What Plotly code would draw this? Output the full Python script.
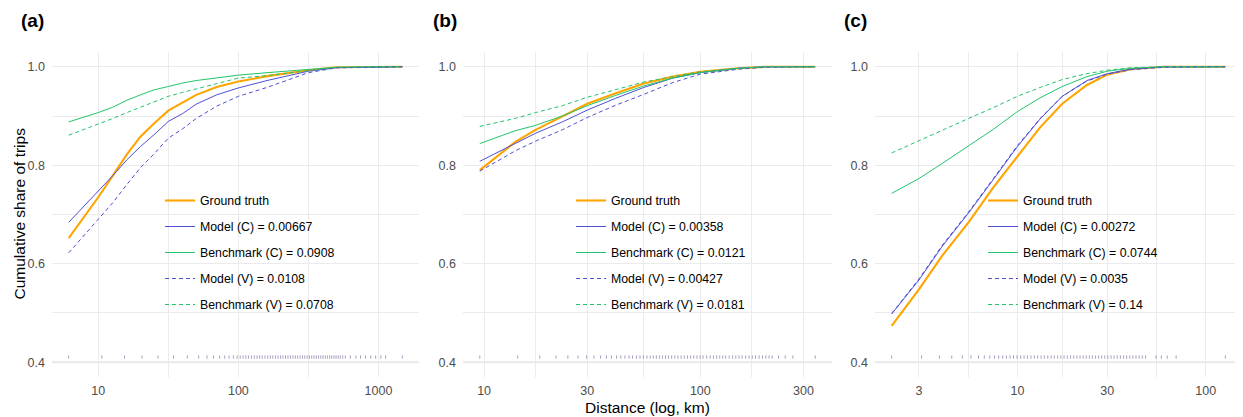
import math
import plotly.graph_objects as go

# ---------------- data ----------------
SERIES_NAMES = ["Ground truth", "Model (C)", "Benchmark (C)", "Model (V)", "Benchmark (V)"]
SCORES_A = [None, "0.00667", "0.0908", "0.0108", "0.0708"]
SCORES_B = [None, "0.00358", "0.0121", "0.00427", "0.0181"]
SCORES_C = [None, "0.00272", "0.0744", "0.0035", "0.14"]
PANEL_TAGS = ["(a)", "(b)", "(c)"]

DIST_A = [6.15, 10, 12.7, 16, 20, 25, 31.6, 40, 50, 70, 100, 160, 316, 500, 1000, 1480]
GT_A = [0.652, 0.735, 0.779, 0.822, 0.858, 0.885, 0.911, 0.928, 0.943, 0.959, 0.970, 0.981, 0.993, 0.999, 1.0, 1.0]
MC_A = [0.684, 0.747, 0.779, 0.811, 0.838, 0.862, 0.889, 0.905, 0.924, 0.943, 0.957, 0.972, 0.991, 0.998, 1.0, 1.0]
BC_A = [0.888, 0.907, 0.918, 0.932, 0.943, 0.953, 0.960, 0.967, 0.972, 0.978, 0.983, 0.988, 0.995, 0.999, 1.0, 1.0]
MV_A = [0.622, 0.690, 0.724, 0.761, 0.795, 0.823, 0.855, 0.874, 0.895, 0.920, 0.940, 0.958, 0.988, 0.998, 1.0, 1.0]
BV_A = [0.861, 0.883, 0.895, 0.907, 0.918, 0.929, 0.940, 0.948, 0.955, 0.967, 0.977, 0.982, 0.992, 0.999, 1.0, 1.0]

DIST_B = [9.55, 13.9, 17.3, 23, 30, 40.6, 54.8, 74.6, 100, 150, 200, 340]
GT_B = [0.790, 0.847, 0.872, 0.900, 0.925, 0.946, 0.966, 0.980, 0.990, 0.997, 1.0, 1.0]
MC_B = [0.808, 0.845, 0.865, 0.888, 0.912, 0.936, 0.958, 0.977, 0.988, 0.997, 1.0, 1.0]
BC_B = [0.844, 0.870, 0.881, 0.900, 0.921, 0.942, 0.961, 0.977, 0.988, 0.997, 1.0, 1.0]
MV_B = [0.788, 0.829, 0.849, 0.872, 0.897, 0.922, 0.944, 0.968, 0.985, 0.995, 0.999, 1.0]
BV_B = [0.879, 0.895, 0.907, 0.921, 0.938, 0.953, 0.969, 0.980, 0.990, 0.997, 1.0, 1.0]

DIST_C = [2.15, 3, 4, 5.5, 7.45, 10, 13.2, 17.3, 23.4, 30, 40, 60, 127]
GT_C = [0.474, 0.548, 0.617, 0.684, 0.755, 0.818, 0.877, 0.925, 0.963, 0.984, 0.995, 1.0, 1.0]
MC_C = [0.498, 0.567, 0.636, 0.703, 0.771, 0.838, 0.894, 0.940, 0.972, 0.986, 0.995, 1.0, 1.0]
BC_C = [0.743, 0.773, 0.804, 0.840, 0.873, 0.909, 0.937, 0.960, 0.980, 0.991, 0.997, 1.0, 1.0]
MV_C = [0.499, 0.569, 0.638, 0.705, 0.773, 0.840, 0.895, 0.940, 0.971, 0.985, 0.994, 0.999, 1.0]
BV_C = [0.825, 0.850, 0.872, 0.895, 0.917, 0.940, 0.958, 0.974, 0.986, 0.993, 0.998, 1.0, 1.0]

RUG_A = [6.15, 10.6, 15.4, 20.5, 26.7, 34.5, 43.2, 52.1, 59.7, 66.6, 73.5, 79.9, 85.8, 92.1, 97.9,
         103, 108, 113, 118, 124, 130, 136, 142, 148, 155, 162, 169, 176, 184, 192, 200, 208, 217,
         226, 235, 245, 255, 265, 276, 287, 298, 310, 322, 334, 347, 360, 374, 388, 402, 417, 432,
         448, 464, 481, 498, 516, 534, 555, 580, 630, 690, 745, 810, 880, 955, 1040, 1125, 1480]
RUG_B = [9.55, 14.3, 18.1, 21.5, 24.4, 27.2, 29.8, 32.2, 34.6, 36.8, 38.8, 41.0, 42.9, 44.8, 46.8,
         48.6, 50.6, 52.6, 54.6, 56.6, 58.6, 60.6, 62.6, 64.7, 66.8, 69, 71.3, 73.7, 76.2, 78.8,
         81.5, 84.3, 87.2, 90.2, 93.3, 96.5, 99.8, 103, 107, 111, 115, 119, 123, 127, 131, 136,
         141, 146, 151, 156, 162, 168, 174, 180, 187, 194, 201, 208, 215, 230, 247, 268, 340]
RUG_C = [2.15, 3.10, 3.85, 4.48, 5.10, 5.67, 6.21, 6.67, 7.13, 7.56, 7.96, 8.36, 8.74, 9.14, 9.53,
         9.95, 10.4, 10.85, 11.3, 11.8, 12.3, 12.8, 13.35, 13.9, 14.5, 15.1, 15.7, 16.35, 17.0,
         17.7, 18.4, 19.15, 19.9, 20.7, 21.5, 22.35, 23.2, 24.1, 25.0, 26.0, 27.0, 28.0, 29.1,
         30.2, 31.4, 32.6, 33.9, 35.2, 36.6, 38.0, 39.5, 41.0, 42.6, 44.3, 46.0, 47.9, 54.4,
         58.1, 62.4, 69.6, 127]
RUG_LEVEL = 0.4105

TICKS_A = [10, 100, 1000]
TICKS_B = [10, 30, 100, 300]
TICKS_C = [3, 10, 30, 100]
MINOR_A = [31.62, 316.2]
MINOR_B = [17.32, 54.77, 173.2]
MINOR_C = [5.477, 17.32, 54.77]
Y_TICKS = [0.4, 0.6, 0.8, 1.0]
Y_MINOR = [0.5, 0.7, 0.9]

# ---------------- style ----------------
OFF = 8  # the page body adds an 8px margin around the figure
W, H = 1243 - OFF, 417 - OFF
FONT = "Liberation Sans, Arial, sans-serif"
ORANGE = "#FFA500"
BLUE = "#4F4FD6"
GREEN = "#22C46C"
GRID = "#EBEBEB"
RUG_COLOR = "rgba(120,95,150,0.6)"
STYLES = [
    dict(color=ORANGE, width=2.1, dash="solid"),
    dict(color=BLUE, width=1.0, dash="solid"),
    dict(color=GREEN, width=1.0, dash="solid"),
    dict(color=BLUE, width=1.0, dash="4px,3px"),
    dict(color=GREEN, width=1.0, dash="4px,3px"),
]


def fx(px):
    return (px - OFF) / W


def fy(px):
    return 1 - (px - OFF) / H


panels = [
    dict(dist=DIST_A, ys=[GT_A, MC_A, BC_A, MV_A, BV_A], scores=SCORES_A, rug=RUG_A,
         ticks=TICKS_A, minor=MINOR_A, dom=(52, 419), leg_x=160, tag_x=19),
    dict(dist=DIST_B, ys=[GT_B, MC_B, BC_B, MV_B, BV_B], scores=SCORES_B, rug=RUG_B,
         ticks=TICKS_B, minor=MINOR_B, dom=(463, 832), leg_x=571, tag_x=431),
    dict(dist=DIST_C, ys=[GT_C, MC_C, BC_C, MV_C, BV_C], scores=SCORES_C, rug=RUG_C,
         ticks=TICKS_C, minor=MINOR_C, dom=(875, 1242), leg_x=983, tag_x=842),
]

TOP, BOTTOM = 52, 377
fig = go.Figure()
layout = dict(
    width=W, height=H, margin=dict(l=0, r=0, t=0, b=0, autoexpand=False),
    paper_bgcolor="white", plot_bgcolor="white",
    font=dict(family=FONT, size=12.5, color="#4D4D4D"),
)

annotations = []
shapes = []
for i, p in enumerate(panels):
    n = "" if i == 0 else str(i + 1)
    xa, ya = "x" + n, "y" + n
    leg = "legend" + n
    for k in range(5):
        label = SERIES_NAMES[k] if p["scores"][k] is None else f"{SERIES_NAMES[k]} = {p['scores'][k]}"
        fig.add_trace(go.Scatter(
            x=p["dist"], y=p["ys"][k], mode="lines", name=label,
            line=STYLES[k], xaxis=xa, yaxis=ya, legend=leg,
            legendgroup=f"{i}-{k}", legendrank=k + 1,
        ))
    fig.add_trace(go.Scatter(
        x=p["rug"], y=[RUG_LEVEL] * len(p["rug"]), mode="markers",
        marker=dict(symbol="line-ns-open", size=2.4, color=RUG_COLOR,
                    line=dict(width=1, color=RUG_COLOR)),
        xaxis=xa, yaxis=ya, showlegend=False, hoverinfo="skip",
    ))
    lo = math.log10(min(p["rug"] + p["dist"]))
    hi = math.log10(max(p["rug"] + p["dist"]))
    pad = 0.05 * (hi - lo)
    layout["xaxis" + n] = dict(
        type="log", range=[lo - pad, hi + pad],
        domain=[fx(p["dom"][0]), fx(p["dom"][1])],
        anchor=ya, tickmode="array", tickvals=p["ticks"], ticktext=[str(t) for t in p["ticks"]],
        showgrid=True, gridcolor=GRID, gridwidth=1.2, zeroline=False, showline=False,
        ticks="", ticklabelstandoff=4, tickfont=dict(size=12.5, color="#4D4D4D"),
        minor=dict(tickmode="array", tickvals=p["minor"], showgrid=True, gridcolor=GRID, gridwidth=0.9, ticks=""),
    )
    layout["yaxis" + n] = dict(
        range=[0.37, 1.03], domain=[fy(BOTTOM), fy(TOP)], anchor=xa,
        tickmode="array", tickvals=Y_TICKS, ticktext=[f"{v:.1f}" for v in Y_TICKS],
        showgrid=True, gridcolor=GRID, gridwidth=1.2, zeroline=False, showline=False,
        ticks="", ticklabelstandoff=6, tickfont=dict(size=12.5, color="#4D4D4D"),
        minor=dict(tickmode="array", tickvals=Y_MINOR, showgrid=True, gridcolor=GRID, gridwidth=0.9, ticks=""),
    )
    layout[leg] = dict(
        x=fx(p["leg_x"]), y=fy(186), xanchor="left", yanchor="top",
        bgcolor="rgba(0,0,0,0)", borderwidth=0, tracegroupgap=7, itemwidth=30,
        font=dict(family=FONT, size=12.3, color="black"), traceorder="grouped",
    )
    shapes.append(dict(type="line", xref=xa + " domain", yref=ya, x0=0, x1=1, y0=0.4, y1=0.4,
                       line=dict(color="#E6E6E6", width=2.2), layer="below"))
    annotations.append(dict(text=f"<b>{PANEL_TAGS[i]}</b>", x=fx(p["tag_x"]), y=fy(20),
                            xref="paper", yref="paper", xanchor="left", yanchor="middle",
                            showarrow=False, font=dict(family=FONT, size=19, color="black")))

annotations.append(dict(text="Cumulative share of trips", x=0, y=fy(214), xref="paper", yref="paper",
                        textangle=-90, showarrow=False, xanchor="left", yanchor="middle",
                        font=dict(family=FONT, size=15.5, color="black")))
annotations.append(dict(text="Distance (log, km)", x=fx(647), y=fy(407), xref="paper", yref="paper",
                        showarrow=False, xanchor="center", yanchor="middle",
                        font=dict(family=FONT, size=15.5, color="black")))
layout["annotations"] = annotations
layout["shapes"] = shapes
fig.update_layout(**layout)
fig.write_html("out.html")
